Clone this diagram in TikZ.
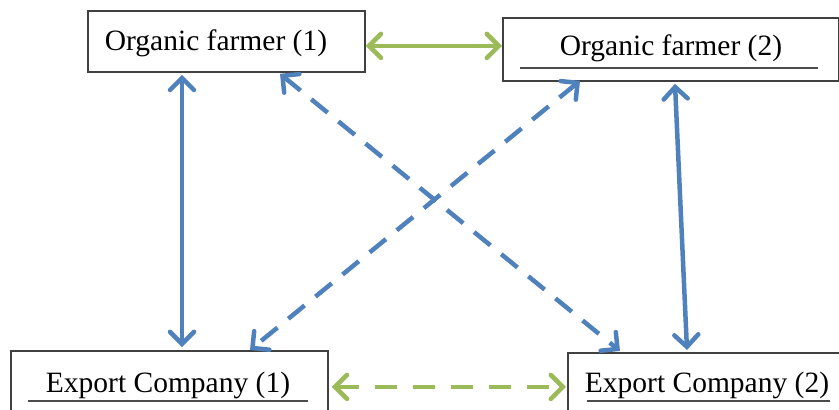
\documentclass[tikz,border=0pt]{standalone}
\usepackage{fontspec}
\setmainfont{Liberation Serif}
\usetikzlibrary{arrows.meta}
\definecolor{linkblue}{HTML}{4F81BD}
\definecolor{linkgreen}{HTML}{9BBB59}
\tikzset{
  boxnode/.style={draw=black!75, line width=1.8pt, fill=white, inner sep=0pt},
  boxtext/.style={anchor=base, inner sep=0pt, font=\fontsize{29.5}{32}\selectfont},
  uline/.style={draw=black!70, line width=1.1pt},
  tip/.style={{Straight Barb[length=12pt,width=24pt,line cap=round]}-{Straight Barb[length=12pt,width=24pt,line cap=round]}},
  bluesolid/.style={tip, draw=linkblue, line width=4.5pt},
  bluedash/.style={tip, draw=linkblue, line width=4.5pt, dash pattern=on 21pt off 14pt},
  greensolid/.style={tip, draw=linkgreen, line width=4.5pt},
  greendash/.style={tip, draw=linkgreen, line width=4.5pt, dash pattern=on 22pt off 16pt},
}
\begin{document}
\begin{tikzpicture}[x=1pt,y=-1pt]
\useasboundingbox (0,0) rectangle (839,410);
% boxes
\node[boxnode, minimum width=277pt, minimum height=61pt, anchor=north west] (of1) at (87,10) {};
\node[boxnode, minimum width=336pt, minimum height=63pt, anchor=north west] (of2) at (502,17) {};
\node[boxnode, minimum width=317pt, minimum height=70pt, anchor=north west] (ec1) at (10,350) {};
\node[boxnode, minimum width=280pt, minimum height=68pt, anchor=north west] (ec2) at (567,352) {};
% texts
\node[boxtext] (t1) at (216,50) {Organic farmer (1)};
\node[boxtext] (t2) at (671,55) {Organic farmer (2)};
\node[boxtext] (t3) at (168,392) {Export Company (1)};
\node[boxtext] (t4) at (707,392) {Export Company (2)};
% underlines
\draw[uline] (520,68) -- (818,68);
\draw[uline] (28,401) -- (308,401);
\draw[uline] (587,401) -- (830,401);
% connectors
\draw[greensolid] ([yshift=-4.5pt]of1.east) -- ([yshift=3.5pt]of2.west);
\draw[greendash] ([yshift=-1pt,xshift=3pt]ec1.east) -- ([yshift=-0pt,xshift=-1pt]ec2.west);
\draw[bluesolid] ([xshift=95pt,yshift=-2pt]of1.south west) -- ([xshift=172pt,yshift=3pt]ec1.north west);
\draw[bluesolid] ([xshift=173pt,yshift=-2pt]of2.south west) -- ([xshift=120pt,yshift=2pt]ec2.north west);
\draw[bluedash] ([xshift=193pt,yshift=-1pt]of1.south west) -- ([xshift=53pt,yshift=1pt]ec2.north west);
\draw[bluedash] ([xshift=78pt,yshift=1pt]of2.south west) -- ([xshift=240pt,yshift=0pt]ec1.north west);
\end{tikzpicture}
\end{document}
